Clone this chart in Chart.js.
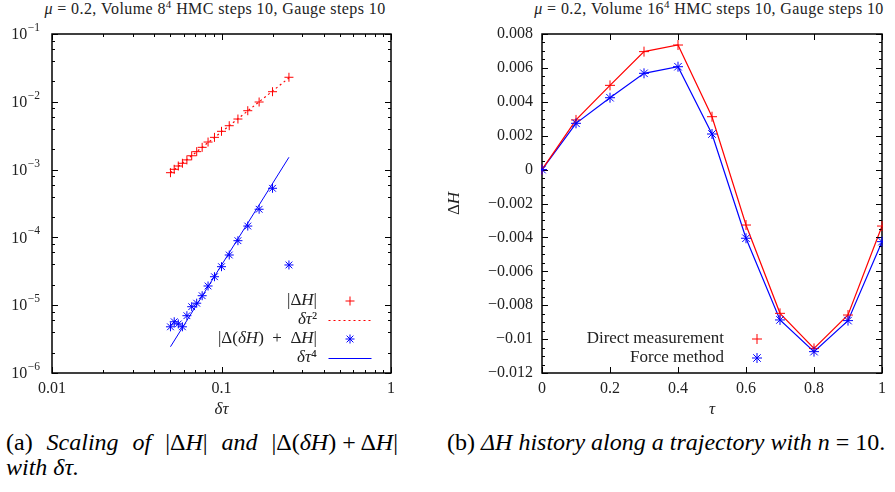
<!DOCTYPE html>
<html>
<head>
<meta charset="utf-8">
<script src="https://cdn.jsdelivr.net/npm/chart.js@4.4.1/dist/chart.umd.min.js"></script>
<style>
  body { margin: 0; width: 895px; height: 492px; background: #fff; position: relative; overflow: hidden; font-family: 'Liberation Serif', serif; }
  .ttl { position: absolute; top: 0; font-size: 16px; letter-spacing: 0.4px; color: #222; white-space: nowrap; transform: translateX(-50%); line-height: 18px; }
  .ttl sup { font-size: 11px; line-height: 0; }
  .cap { position: absolute; font-size: 24px; line-height: 25px; color: #000; font-style: italic; white-space: nowrap; }
  .cap .up { font-style: normal; }
  .cap .m { display: inline-block; }
  #c1 { position: absolute; left: 0; top: 0; }
  #c2 { position: absolute; left: 440px; top: 0; }
</style>
</head>
<body>
<div class="ttl" style="left:215px"><i>μ</i> = 0.2, Volume 8<sup>4</sup> HMC steps 10, Gauge steps 10</div>
<div class="ttl" style="left:709px"><i>μ</i> = 0.2, Volume 16<sup>4</sup> HMC steps 10, Gauge steps 10</div>
<canvas id="c1" width="440" height="420"></canvas>
<canvas id="c2" width="455" height="420"></canvas>
<div class="cap" style="left:6px;top:430px;width:392px;">
  <div style="text-align:justify;text-align-last:justify;"><span class="up">(a)</span> Scaling of <span class="m"><span class="up">|Δ</span>H<span class="up">|</span></span> and <span class="m"><span class="up">|Δ(</span>δH<span class="up">) + Δ</span>H<span class="up">|</span></span></div>
  <div>with δτ.</div>
</div>
<div class="cap" style="left:447px;top:430px;"><span class="up">(b)</span> Δ<i>H</i> history along a trajectory with <i>n</i> <span class="up">= 10.</span></div>
<script>
// === Datos: panel izquierdo (escalado con delta tau) ===
const leftTau = [0.05, 0.0526, 0.0556, 0.0588, 0.0625, 0.0667, 0.0714, 0.0769, 0.0833, 0.0909, 0.1, 0.1111, 0.125, 0.1429, 0.1667, 0.2, 0.25];
const absDH = [0.00090, 0.00101, 0.00113, 0.00124, 0.00139, 0.00160, 0.00184, 0.00213, 0.00255, 0.00299, 0.00367, 0.00444, 0.00557, 0.00739, 0.00993, 0.01409, 0.0230];
const absDdH = [4.8e-6, 5.7e-6, 5.3e-6, 4.8e-6, 7.0e-6, 9.5e-6, 1.07e-5, 1.38e-5, 1.92e-5, 2.63e-5, 3.70e-5, 5.50e-5, 8.94e-5, 1.47e-4, 2.60e-4, 5.30e-4, 3.92e-5];
const fitTau = [0.05, 0.25];
const fitTau2 = [0.0009, 0.0225];
const fitTau4 = [2.44e-6, 1.52e-3];
const leftXTicks = [0.01, 0.1, 1];
const leftXLabels = ['0.01', '0.1', '1'];
const leftYTicks = [1e-6, 1e-5, 1e-4, 1e-3, 1e-2, 1e-1];
const leftYLabels = [['10', '−6'], ['10', '−5'], ['10', '−4'], ['10', '−3'], ['10', '−2'], ['10', '−1']];

// === Datos: panel derecho (historia de Delta H) ===
const tau = [0, 0.1, 0.2, 0.3, 0.4, 0.5, 0.6, 0.7, 0.8, 0.9, 1.0];
const directDH = [0, 0.00293, 0.00497, 0.00696, 0.00735, 0.00312, -0.00327, -0.00848, -0.01055, -0.00858, -0.00333];
const forceDH = [0, 0.00273, 0.00424, 0.00568, 0.00607, 0.00210, -0.00405, -0.00887, -0.01074, -0.00891, -0.00425];
const rightXTicks = [0, 0.2, 0.4, 0.6, 0.8, 1];
const rightXLabels = ['0', '0.2', '0.4', '0.6', '0.8', '1'];
const rightYTicks = [0.008, 0.006, 0.004, 0.002, 0, -0.002, -0.004, -0.006, -0.008, -0.01, -0.012];
const rightYLabels = ['0.008', '0.006', '0.004', '0.002', '0', '−0.002', '−0.004', '−0.006', '−0.008', '−0.01', '−0.012'];

const SERIF = "'Liberation Serif', serif";
const RED = '#ff0000';
const BLUE = '#0000ff';
const TXT = '#222';

const pts = (xs, ys) => xs.map((x, i) => ({ x: x, y: ys[i] }));

// marcas tipo gnuplot
const drawMark = (ctx, style, x, y, r, color) => {
    ctx.save();
    ctx.strokeStyle = color;
    ctx.lineWidth = 1;
    ctx.setLineDash([]);
    ctx.beginPath();
    ctx.moveTo(x - r, y); ctx.lineTo(x + r, y);
    ctx.moveTo(x, y - r); ctx.lineTo(x, y + r);
    if (style === 'star') {
        const d = r * 0.75;
        ctx.moveTo(x - d, y - d); ctx.lineTo(x + d, y + d);
        ctx.moveTo(x - d, y + d); ctx.lineTo(x + d, y - d);
    }
    ctx.stroke();
    ctx.restore();
};

// texto con trozos en cursiva
const drawRich = (ctx, segs, size, x, y, align) => {
    const fnt = it => (it ? 'italic ' : '') + size + 'px ' + SERIF;
    let w = 0;
    segs.forEach(s => { ctx.font = fnt(s[1]); w += ctx.measureText(s[0]).width; });
    let cx = align === 'right' ? x - w : (align === 'center' ? x - w / 2 : x);
    ctx.textAlign = 'left';
    segs.forEach(s => { ctx.font = fnt(s[1]); ctx.fillText(s[0], cx, y); cx += ctx.measureText(s[0]).width; });
};

// marco y ticks hacia dentro en los cuatro lados
const frameTicks = {
    id: 'frameTicks',
    afterDatasetsDraw(chart, args, o) {
        const { ctx, chartArea: a, scales } = chart;
        ctx.save();
        ctx.strokeStyle = '#000';
        ctx.lineWidth = 1;
        const seg = (x1, y1, x2, y2) => { ctx.beginPath(); ctx.moveTo(x1, y1); ctx.lineTo(x2, y2); ctx.stroke(); };
        const tx = (v, len) => {
            const px = Math.round(scales.x.getPixelForValue(v)) + 0.5;
            seg(px, a.bottom, px, a.bottom - len);
            seg(px, a.top, px, a.top + len);
        };
        const ty = (v, len) => {
            const py = Math.round(scales.y.getPixelForValue(v)) + 0.5;
            seg(a.left, py, a.left + len, py);
            seg(a.right, py, a.right - len, py);
        };
        o.xMinor.forEach(v => tx(v, 3));
        o.xMajor.forEach(v => tx(v, 6));
        o.yMinor.forEach(v => ty(v, 3));
        o.yMajor.forEach(v => ty(v, 6));
        ctx.lineWidth = 1.5;
        ctx.strokeRect(a.left, a.top, a.right - a.left, a.bottom - a.top);
        // etiquetas con exponente (eje y logarítmico)
        if (o.expLabels) {
            ctx.fillStyle = TXT;
            ctx.textBaseline = 'middle';
            ctx.textAlign = 'right';
            o.expLabels.ticks.forEach((v, i) => {
                const py = scales.y.getPixelForValue(v);
                const [base, ex] = o.expLabels.labels[i];
                const right = a.left - 12;
                ctx.font = '11.5px ' + SERIF;
                const ew = ctx.measureText(ex).width;
                ctx.fillText(ex, right, py - 6);
                ctx.font = '16px ' + SERIF;
                ctx.fillText(base, right - ew - 0.5, py + 1);
            });
        }
        ctx.restore();
    }
};

// leyenda: texto alineado a la derecha, símbolo a la derecha; título del eje y
const sideLegend = {
    id: 'sideLegend',
    afterDraw(chart, args, o) {
        const ctx = chart.ctx;
        ctx.save();
        ctx.textBaseline = 'middle';
        ctx.fillStyle = TXT;
        o.rows.forEach((r, i) => {
            const y = o.top + i * o.step;
            drawRich(ctx, r.segs, 17, o.textRight, y, 'right');
            const ds = chart.data.datasets[r.ds];
            if (r.line) {
                ctx.strokeStyle = ds.borderColor;
                ctx.lineWidth = ds.borderWidth;
                ctx.setLineDash(ds.borderDash || []);
                ctx.beginPath();
                ctx.moveTo(o.symX - o.symW / 2, y + 0.5);
                ctx.lineTo(o.symX + o.symW / 2, y + 0.5);
                ctx.stroke();
                ctx.setLineDash([]);
            } else {
                drawMark(ctx, ds.pointStyle, o.symX, y, ds.pointRadius, ds.borderColor);
            }
        });
        if (o.yTitle) {
            ctx.save();
            ctx.translate(o.yTitle.x, (chart.chartArea.top + chart.chartArea.bottom) / 2);
            ctx.rotate(-Math.PI / 2);
            drawRich(ctx, o.yTitle.segs, 17, 0, 0, 'center');
            ctx.restore();
        }
        ctx.restore();
    }
};

// puntos dibujados a mano en lugar de los de Chart.js
const gnuMarks = {
    id: 'gnuMarks',
    afterDatasetsDraw(chart) {
        const { ctx, chartArea: a } = chart;
        ctx.save();
        ctx.beginPath();
        ctx.rect(a.left - 1, a.top - 1, a.right - a.left + 2, a.bottom - a.top + 2);
        ctx.clip();
        chart.data.datasets.forEach((ds, i) => {
            if (!ds.marks) return;
            chart.getDatasetMeta(i).data.forEach(el => drawMark(ctx, ds.pointStyle, el.x, el.y, ds.pointRadius, ds.borderColor));
        });
        ctx.restore();
    }
};

const tickFont = { family: SERIF, size: 16 };

// ticks menores
const logMinor = (lo, hi, mults) => {
    const out = [];
    for (let e = lo; e < hi; e++) mults.forEach(m => out.push(m * Math.pow(10, e)));
    return out;
};
const linMinor = (lo, hi, step) => {
    const out = [];
    for (let v = lo; v <= hi + 1e-9; v += step) out.push(+v.toFixed(6));
    return out;
};

// === Gráfico izquierdo ===
new Chart(document.getElementById('c1'), {
    type: 'scatter',
    data: {
        datasets: [
            { label: '|ΔH|', data: pts(leftTau, absDH), marks: true, pointStyle: 'cross', pointRadius: 4.5, borderColor: RED, backgroundColor: RED, showLine: false, pointBorderWidth: 0, pointHoverRadius: 0 },
            { label: 'δτ²', data: pts(fitTau, fitTau2), borderColor: RED, borderWidth: 1.2, borderDash: [2, 3], pointRadius: 0, showLine: true },
            { label: '|Δ(δH) + ΔH|', data: pts(leftTau, absDdH), marks: true, pointStyle: 'star', pointRadius: 4.5, borderColor: BLUE, backgroundColor: BLUE, showLine: false, pointBorderWidth: 0, pointHoverRadius: 0 },
            { label: 'δτ⁴', data: pts(fitTau, fitTau4), borderColor: BLUE, borderWidth: 1, pointRadius: 0, showLine: true }
        ]
    },
    options: {
        responsive: false,
        animation: false,
        layout: { padding: { top: 34, right: 49, left: 0, bottom: 0 } },
        elements: { point: { radius: 0 } },
        scales: {
            x: {
                type: 'logarithmic', min: 0.01, max: 1,
                grid: { display: false, drawTicks: false },
                border: { display: false },
                afterBuildTicks: s => { s.ticks = leftXTicks.map(v => ({ value: v })); },
                afterFit: s => { s.height = 47; },
                ticks: { font: tickFont, color: TXT, padding: 6, maxRotation: 0, autoSkip: false, callback: (v, i) => leftXLabels[i] },
                title: { display: true, text: 'δτ', color: TXT, font: { family: SERIF, size: 17, style: 'italic' }, padding: { top: 0, bottom: 0 } }
            },
            y: {
                type: 'logarithmic', min: 1e-6, max: 1e-1,
                grid: { display: false, drawTicks: false },
                border: { display: false },
                afterBuildTicks: s => { s.ticks = leftYTicks.map(v => ({ value: v })); },
                afterFit: s => { s.width = 52; },
                ticks: { display: false }
            }
        },
        plugins: {
            legend: { display: false },
            tooltip: { enabled: false },
            frameTicks: {
                xMajor: leftXTicks, xMinor: logMinor(-2, 0, [2, 3, 4, 5, 6, 7, 8, 9]),
                yMajor: leftYTicks, yMinor: logMinor(-6, -1, [2, 4, 6, 8]),
                expLabels: { ticks: leftYTicks, labels: leftYLabels }
            },
            sideLegend: {
                top: 301, step: 19, textRight: 317, symX: 350, symW: 43,
                rows: [
                    { ds: 0, segs: [['|Δ', 0], ['H', 1], ['|', 0]] },
                    { ds: 1, line: true, segs: [['δτ', 1], ['²', 0]] },
                    { ds: 2, segs: [['|Δ(', 0], ['δH', 1], [')  +  Δ', 0], ['H', 1], ['|', 0]] },
                    { ds: 3, line: true, segs: [['δτ', 1], ['⁴', 0]] }
                ]
            }
        }
    },
    plugins: [frameTicks, gnuMarks, sideLegend]
});

// === Gráfico derecho ===
new Chart(document.getElementById('c2'), {
    type: 'scatter',
    data: {
        datasets: [
            { label: 'Direct measurement', data: pts(tau, directDH), marks: true, pointStyle: 'cross', pointRadius: 5, borderColor: RED, backgroundColor: RED, borderWidth: 1.2, showLine: true, pointBorderWidth: 0, pointHoverRadius: 0 },
            { label: 'Force method', data: pts(tau, forceDH), marks: true, pointStyle: 'star', pointRadius: 5, borderColor: BLUE, backgroundColor: BLUE, borderWidth: 1.2, showLine: true, pointBorderWidth: 0, pointHoverRadius: 0 }
        ]
    },
    options: {
        responsive: false,
        animation: false,
        layout: { padding: { top: 34, right: 13, left: 0, bottom: 0 } },
        elements: { point: { radius: 0 } },
        scales: {
            x: {
                type: 'linear', min: 0, max: 1,
                grid: { display: false, drawTicks: false },
                border: { display: false },
                afterBuildTicks: s => { s.ticks = rightXTicks.map(v => ({ value: v })); },
                afterFit: s => { s.height = 47; },
                ticks: { font: tickFont, color: TXT, padding: 6, maxRotation: 0, autoSkip: false, callback: (v, i) => rightXLabels[i] },
                title: { display: true, text: 'τ', color: TXT, font: { family: SERIF, size: 17, style: 'italic' }, padding: { top: 0, bottom: 0 } }
            },
            y: {
                type: 'linear', min: -0.012, max: 0.008,
                grid: { display: false, drawTicks: false },
                border: { display: false },
                afterBuildTicks: s => { s.ticks = rightYTicks.map(v => ({ value: v })); },
                afterFit: s => { s.width = 102; },
                ticks: { font: tickFont, color: TXT, padding: 9, autoSkip: false, callback: (v, i) => rightYLabels[i] }
            }
        },
        plugins: {
            legend: { display: false },
            tooltip: { enabled: false },
            frameTicks: {
                xMajor: rightXTicks, xMinor: [],
                yMajor: rightYTicks, yMinor: linMinor(-0.012, 0.008, 0.0005)
            },
            sideLegend: {
                top: 339, step: 19, textRight: 284, symX: 317, symW: 0,
                rows: [
                    { ds: 0, segs: [['Direct measurement', 0]] },
                    { ds: 1, segs: [['Force method', 0]] }
                ],
                yTitle: { x: 15, segs: [['Δ', 0], ['H', 1]] }
            }
        }
    },
    plugins: [frameTicks, gnuMarks, sideLegend]
});
</script>
</body>
</html>
